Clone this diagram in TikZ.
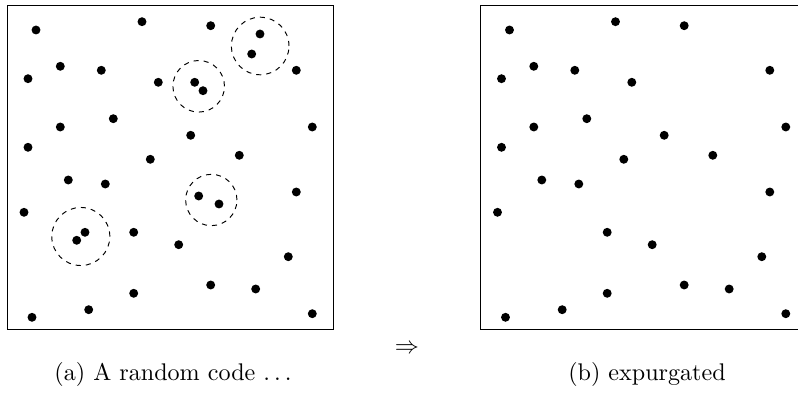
\documentclass[tikz,border=0pt]{standalone}
\usepackage{amsmath}
\usepackage{tikz}
\usetikzlibrary{positioning}

\begin{document}
\begin{tikzpicture}[
        x=0.415pt, y=-0.415pt,
        codebox/.style={rectangle, draw=black, thin, inner sep=0pt, minimum width=135.3pt, minimum height=134.5pt},
        dot/.style={circle, fill=black, inner sep=0pt, minimum size=3.7pt},
        cluster/.style={circle, draw=black, dash pattern=on 2.1pt off 2.1pt, thin, inner sep=0pt},
        caption/.style={anchor=base, font=\normalsize}
    ]
        \useasboundingbox (0,0) rectangle (798,393);

        % Boxes
        \node[codebox] (randombox) at (170.3,167.3) {};
        \node[codebox] (expurgbox) at (643.8,167.3) {};

        % Codewords kept in both boxes
        \foreach \px/\py [count=\i] in {36/30, 142/21.7, 210.7/25.7, 60.3/66.3, 101.3/70.3, 28/78.7,
            158.3/82.3, 296.3/70.3, 113.3/118.7, 60.3/127, 312.3/127, 190.7/135.3, 28/147.3,
            150.3/159.3, 239.3/155.3, 68.3/180, 105.3/184, 296.3/192, 24/212.3, 133.7/232.3,
            178.7/244.7, 288.3/256.7, 210.7/285, 255.7/289, 133.7/293.3, 88.7/309.7, 32/317.3,
            312.3/313.7} {
            \node[dot] (a\i) at (\px,\py) {};
            \node[dot] (b\i) at (\px+473.5,\py) {};
        }

        % Codewords that are too close
        \foreach \px/\py [count=\i] in {260/34, 251.7/54, 194.7/82.3, 203/90.7,
            198.7/196, 219/204, 85/232.3, 76.7/240.3} {
            \node[dot] (p\i) at (\px,\py) {};
        }

        % Dashed circles
        \node[cluster, minimum size=23.9pt] (close1) at (260.2,46) {};
        \node[cluster, minimum size=21.4pt] (close2) at (198.7,86.3) {};
        \node[cluster, minimum size=21.3pt] (close3) at (211.3,200) {};
        \node[cluster, minimum size=24.1pt] (close4) at (80.8,236.5) {};

        % Captions
        \node (implies) at (407,349) {$\Rightarrow$};
        \node[caption] (randomcap) at (173,381) {(a) A random code $\ldots$};
        \node[caption] (expurgcap) at (647,381) {(b) expurgated};

    \end{tikzpicture}
\end{document}
